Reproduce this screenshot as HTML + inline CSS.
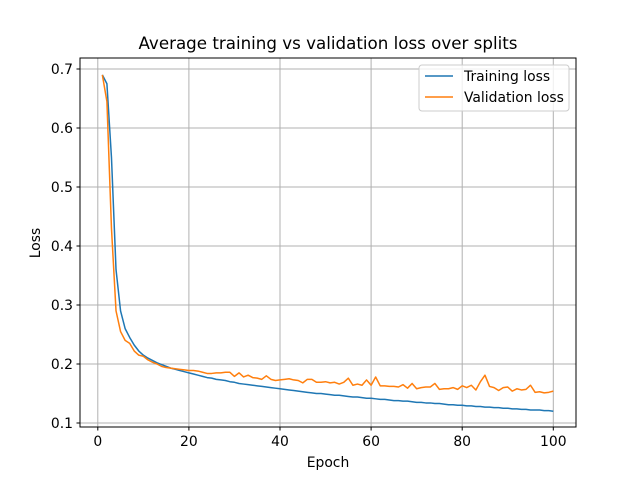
<!DOCTYPE html>
<html><head><meta charset="utf-8"><style>
body{margin:0;background:#fff}
svg{display:block;font-family:"DejaVu Sans","Liberation Sans",sans-serif}
</style></head><body>
<svg id="chart" width="640" height="480">
<rect width="640" height="480" fill="#fff"/>
<text x="328" y="49" font-size="16.7" text-anchor="middle">Average training vs validation loss over splits</text>
<g id="grid"></g><g id="ticks"></g><g id="lines"></g>
<rect x="80" y="58" width="496" height="369" fill="none" stroke="#000" stroke-width="1"/>
<text x="328" y="467" font-size="13.9" text-anchor="middle">Epoch</text>
<text x="0" y="0" font-size="13.9" text-anchor="middle" transform="translate(40,243) rotate(-90)">Loss</text>
<g>
<rect x="419" y="65" width="150" height="46" rx="3" fill="#fff" fill-opacity="0.8" stroke="#ccc"/>
<line x1="425" y1="76" x2="453" y2="76" stroke="#1f77b4" stroke-width="1.5"/>
<text x="464" y="81" font-size="13.9">Training loss</text>
<line x1="425" y1="97" x2="453" y2="97" stroke="#ff7f0e" stroke-width="1.5"/>
<text x="464" y="102" font-size="13.9">Validation loss</text>
</g>
</svg>
<script>
const trainLoss=[0.69,0.675,0.55,0.36,0.29,0.26,0.245,0.232,0.222,0.215,
0.210,0.206,0.202,0.199,0.196,0.193,0.191,0.189,0.187,0.185,
0.183,0.181,0.179,0.177,0.176,0.174,0.173,0.172,0.170,0.169,
0.167,0.166,0.165,0.164,0.163,0.162,0.161,0.160,0.159,0.158,
0.157,0.156,0.155,0.154,0.153,0.152,0.151,0.150,0.150,0.149,
0.148,0.147,0.147,0.146,0.145,0.144,0.144,0.143,0.142,0.142,
0.141,0.140,0.140,0.139,0.138,0.138,0.137,0.137,0.136,0.135,
0.135,0.134,0.134,0.133,0.133,0.132,0.131,0.131,0.130,0.130,
0.129,0.129,0.128,0.128,0.127,0.127,0.126,0.126,0.125,0.125,
0.124,0.124,0.123,0.123,0.122,0.122,0.122,0.121,0.121,0.120];
const valLoss=[0.69,0.645,0.43,0.29,0.255,0.24,0.235,0.222,0.215,0.213,
0.207,0.203,0.200,0.196,0.194,0.193,0.192,0.191,0.190,0.189,
0.189,0.188,0.186,0.184,0.184,0.185,0.185,0.186,0.186,0.179,
0.185,0.178,0.181,0.177,0.176,0.174,0.180,0.174,0.172,0.173,
0.174,0.175,0.173,0.172,0.168,0.174,0.174,0.169,0.169,0.170,
0.168,0.169,0.166,0.169,0.176,0.164,0.166,0.164,0.173,0.164,
0.178,0.163,0.163,0.162,0.162,0.161,0.165,0.159,0.167,0.158,
0.160,0.161,0.161,0.167,0.157,0.158,0.158,0.160,0.157,0.163,
0.160,0.164,0.156,0.170,0.181,0.162,0.160,0.155,0.160,0.161,
0.154,0.158,0.156,0.157,0.164,0.152,0.153,0.151,0.152,0.154];
const xTicks=[0,20,40,60,80,100];
const yTicks=[0.1,0.2,0.3,0.4,0.5,0.6,0.7];
const NS="http://www.w3.org/2000/svg";
const xs=v=>97.8+v*4.555;
const ys=v=>423-(v-0.1)*590;
function mk(t,a,p){const e=document.createElementNS(NS,t);for(const k in a)e.setAttribute(k,a[k]);p.appendChild(e);return e;}
const grid=document.getElementById('grid'),ticks=document.getElementById('ticks'),lines=document.getElementById('lines');
xTicks.forEach(v=>{const x=xs(v);
const g=mk('line',{x1:x,x2:x,y1:58,y2:427,stroke:'#b0b0b0','stroke-width':1},grid);


mk('line',{x1:x,x2:x,y1:427,y2:430.5,stroke:'#000'},ticks);
const t=mk('text',{x:x,y:446,'font-size':13.9,'text-anchor':'middle'},ticks);t.textContent=v;

});
yTicks.forEach(v=>{const y=ys(v);
const g=mk('line',{x1:80,x2:576,y1:y,y2:y,stroke:'#b0b0b0','stroke-width':1},grid);


mk('line',{x1:76.5,x2:80,y1:y,y2:y,stroke:'#000'},ticks);
const t=mk('text',{x:73,y:y+5,'font-size':13.9,'text-anchor':'end'},ticks);t.textContent=v.toFixed(1);

});
function series(arr,color,name){
const d=arr.map((v,i)=>(i?'L':'M')+xs(i+1).toFixed(2)+','+ys(v).toFixed(2)).join('');
const p=mk('path',{d:d,fill:'none',stroke:color,'stroke-width':1.5,'stroke-linejoin':'round'},lines);

}
series(trainLoss,'#1f77b4','training-loss-line');
series(valLoss,'#ff7f0e','validation-loss-line');
</script>
</body></html>
